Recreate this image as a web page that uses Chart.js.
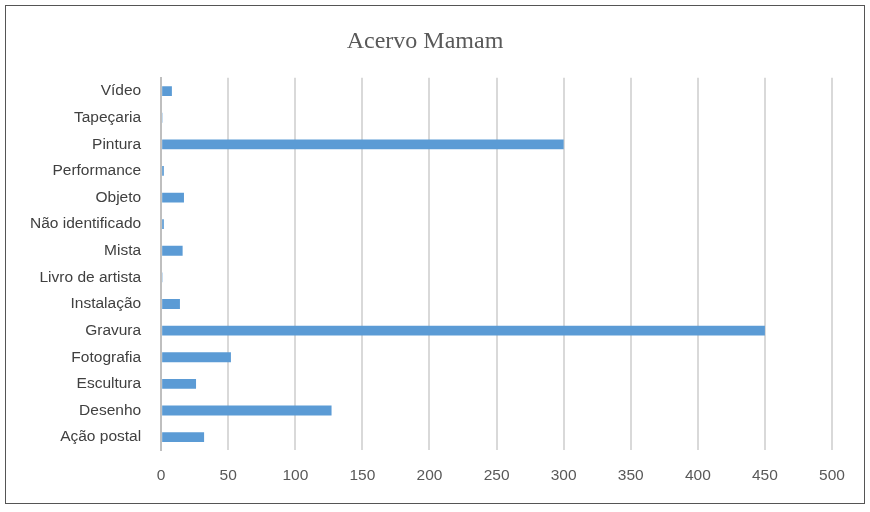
<!DOCTYPE html>
<html>
<head>
<meta charset="utf-8">
<script src="https://cdn.jsdelivr.net/npm/chart.js@4/dist/chart.umd.min.js"></script>
<style>
  body { margin: 0; background: #fff; }
  #wrap { position: absolute; left: 5px; top: 5px; width: 860px; height: 499px; border: 1px solid #555; box-sizing: border-box; }
</style>
</head>
<body>
<div id="wrap"><canvas id="chart"></canvas></div>
<script>
const categorias = ['Ação postal', 'Desenho', 'Escultura', 'Fotografia', 'Gravura', 'Instalação', 'Livro de artista', 'Mista', 'Não identificado', 'Objeto', 'Performance', 'Pintura', 'Tapeçaria', 'Vídeo'];
const quantidades = [32, 127, 26, 52, 450, 14, 1, 16, 2, 17, 2, 300, 1, 8];
const ticksX = [0, 50, 100, 150, 200, 250, 300, 350, 400, 450, 500];

new Chart(document.getElementById('chart'), {
    type: 'bar',
    data: {
        labels: categorias,
        datasets: [{
            data: quantidades,
            backgroundColor: '#5b9bd5',
            barPercentage: 0.37,
            categoryPercentage: 1
        }]
    },
    options: {
        indexAxis: 'y',
        responsive: true,
        maintainAspectRatio: false,
        animation: false,
        layout: { padding: { left: 12, right: 32, top: 4, bottom: 2 } },
        plugins: {
            legend: { display: false },
            tooltip: { enabled: false },
            title: {
                display: true,
                text: 'Acervo Mamam',
                color: '#595959',
                font: { family: 'Liberation Serif', size: 24, weight: 'normal' },
                padding: { top: 17, bottom: 22 }
            }
        },
        scales: {
            x: {
                min: 0, max: 500,
                afterBuildTicks: (axis) => { axis.ticks = ticksX.map(v => ({ value: v })); },
                grid: { color: '#d9d9d9', lineWidth: 2, drawTicks: false },
                border: { display: false },
                ticks: { color: '#595959', font: { family: 'Liberation Sans', size: 15.5 }, padding: 16 }
            },
            y: {
                reverse: true,
                grid: { display: false },
                border: { color: '#bfbfbf', width: 2 },
                ticks: { color: '#404040', font: { family: 'Liberation Sans', size: 15.5 }, padding: 12 }
            }
        }
    }
});
</script>
</body>
</html>
